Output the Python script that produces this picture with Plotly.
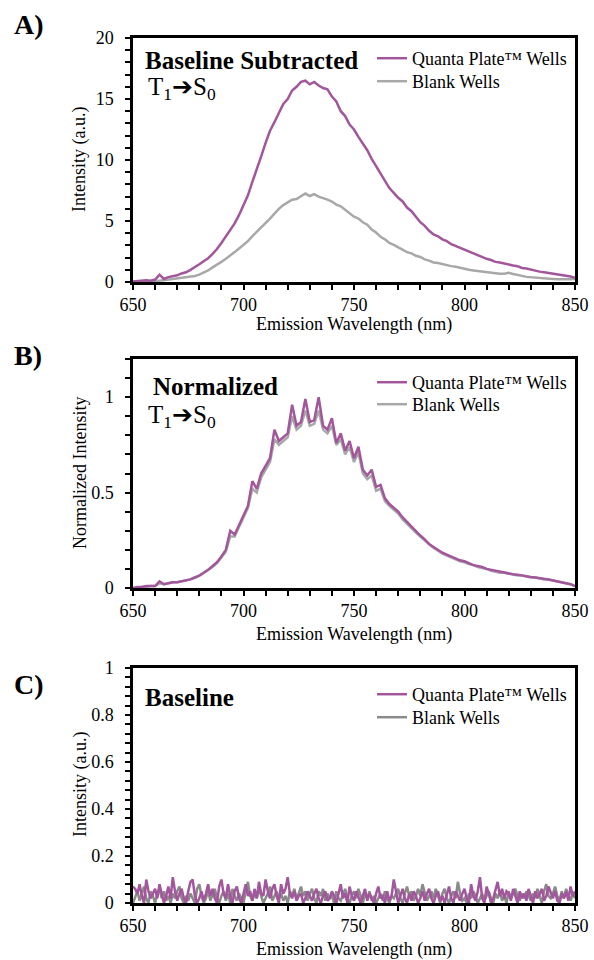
import plotly.graph_objects as go

# ---------------- data ----------------
wl_2nm = list(range(650, 851, 2))
wl_1nm = list(range(650, 851, 1))

a_quanta = [0.05, 0.1, 0.1, 0.15, 0.1, 0.2, 0.6, 0.25, 0.4, 0.45,
            0.55, 0.7, 0.8, 1.0, 1.2, 1.45, 1.7, 1.95, 2.3, 2.7,
            3.2, 3.7, 4.2, 4.8, 5.5, 6.3, 7.1, 8.2, 9.2, 10.3,
            11.4, 12.4, 13.1, 13.9, 14.6, 15.0, 15.7, 16.0, 16.4, 16.5,
            16.2, 16.4, 16.1, 15.9, 15.8, 15.2, 14.8, 14.0, 13.6, 12.9,
            12.5, 11.9, 11.4, 10.8, 10.1, 9.5, 8.8, 8.3, 7.7, 7.3,
            6.9, 6.6, 6.1, 5.8, 5.3, 4.9, 4.6, 4.2, 3.9, 3.75,
            3.5, 3.35, 3.1, 2.95, 2.75, 2.6, 2.5, 2.3, 2.2, 2.0,
            1.9, 1.8, 1.65, 1.6, 1.5, 1.45, 1.35, 1.3, 1.15, 1.1,
            1.0, 0.95, 0.85, 0.8, 0.75, 0.7, 0.65, 0.6, 0.5, 0.45,
            0.35]

a_blank = [0.0, 0.05, 0.0, 0.05, 0.05, 0.1, 0.1, 0.15, 0.15, 0.2,
           0.25, 0.3, 0.35, 0.4, 0.5, 0.6, 0.75, 0.95, 1.2, 1.4,
           1.65, 1.9, 2.15, 2.45, 2.75, 3.05, 3.35, 3.75, 4.1, 4.5,
           4.85, 5.2, 5.6, 6.0, 6.3, 6.5, 6.75, 6.8, 7.0, 7.25,
           7.05, 7.2, 7.0, 6.9, 6.75, 6.6, 6.35, 6.2, 5.9, 5.65,
           5.35, 5.2, 4.9, 4.7, 4.3, 4.05, 3.7, 3.5, 3.2, 3.05,
           2.85, 2.7, 2.45, 2.35, 2.15, 2.05, 1.85, 1.75, 1.6, 1.55,
           1.45, 1.4, 1.3, 1.25, 1.15, 1.1, 1.0, 0.95, 0.9, 0.85,
           0.8, 0.75, 0.72, 0.68, 0.68, 0.75, 0.65, 0.55, 0.5, 0.42,
           0.4, 0.35, 0.33, 0.3, 0.28, 0.25, 0.22, 0.2, 0.2, 0.22,
           0.25]

b_quanta = [0.0, 0.005, 0.005, 0.01, 0.01, 0.01, 0.035, 0.02, 0.025, 0.03,
            0.03, 0.035, 0.04, 0.045, 0.055, 0.065, 0.08, 0.095, 0.115, 0.135,
            0.165, 0.2, 0.3, 0.28, 0.33, 0.38, 0.43, 0.56, 0.52, 0.6,
            0.64, 0.68, 0.83, 0.77, 0.79, 0.81, 0.96, 0.85, 0.87, 0.99,
            0.87, 0.88, 1.0, 0.85, 0.83, 0.89, 0.76, 0.81, 0.72, 0.77,
            0.68, 0.74, 0.62, 0.59, 0.62, 0.53, 0.54, 0.47, 0.44, 0.42,
            0.4, 0.37, 0.345, 0.32, 0.3, 0.275, 0.255, 0.23, 0.215, 0.2,
            0.185, 0.175, 0.165, 0.155, 0.145, 0.14, 0.13, 0.12, 0.115, 0.11,
            0.1, 0.095, 0.09, 0.085, 0.08, 0.075, 0.072, 0.07, 0.065, 0.06,
            0.058, 0.055, 0.05, 0.048, 0.045, 0.04, 0.037, 0.033, 0.028, 0.02,
            0.01]

b_blank = [0.0, 0.0, 0.005, 0.005, 0.01, 0.01, 0.025, 0.02, 0.025, 0.03,
           0.03, 0.035, 0.04, 0.045, 0.055, 0.065, 0.08, 0.095, 0.11, 0.13,
           0.16, 0.19, 0.27, 0.27, 0.32, 0.37, 0.42, 0.52, 0.5, 0.58,
           0.62, 0.66, 0.78, 0.75, 0.77, 0.79, 0.9, 0.83, 0.85, 0.93,
           0.85, 0.86, 0.93, 0.83, 0.81, 0.85, 0.75, 0.78, 0.7, 0.74,
           0.66, 0.71, 0.6, 0.57, 0.59, 0.51, 0.52, 0.455, 0.43, 0.41,
           0.39, 0.36, 0.335, 0.31, 0.29, 0.27, 0.25, 0.225, 0.21, 0.195,
           0.18, 0.17, 0.16, 0.15, 0.14, 0.135, 0.125, 0.12, 0.11, 0.105,
           0.1, 0.09, 0.085, 0.08, 0.08, 0.075, 0.07, 0.065, 0.065, 0.06,
           0.055, 0.055, 0.05, 0.045, 0.045, 0.04, 0.035, 0.03, 0.025, 0.02,
           0.01]

c_quanta = [0.07, 0.06, 0.04, 0.08, 0.03, 0.0, 0.1, 0.05, 0.02, 0.04,
            0.06, 0.02, 0.08, 0.04, 0.0, 0.03, 0.07, 0.02, 0.11, 0.05,
            0.01, 0.04, 0.06, 0.02, 0.0, 0.05, 0.09, 0.1, 0.03, 0.0,
            0.02, 0.05, 0.01, 0.04, 0.08, 0.03, 0.06, 0.02, 0.0, 0.07,
            0.1, 0.04, 0.02, 0.08, 0.03, 0.0, 0.05, 0.07, 0.02, 0.0,
            0.04, 0.08, 0.03, 0.05, 0.01, 0.06, 0.02, 0.09, 0.04, 0.03,
            0.1, 0.05, 0.02, 0.06, 0.08, 0.03, 0.0, 0.08, 0.04, 0.06,
            0.11, 0.04, 0.02, 0.05, 0.01, 0.03, 0.04, 0.0, 0.02, 0.05,
            0.03, 0.01, 0.04, 0.06, 0.02, 0.0, 0.03, 0.05, 0.01, 0.02,
            0.05, 0.03, 0.0, 0.04, 0.08, 0.02, 0.04, 0.0, 0.07, 0.03,
            0.01, 0.05, 0.02, 0.0, 0.03, 0.06, 0.01, 0.04, 0.02, 0.0,
            0.04, 0.07, 0.02, 0.03, 0.0, 0.05, 0.01, 0.03, 0.1, 0.04,
            0.0, 0.03, 0.06, 0.02, 0.0, 0.04, 0.01, 0.05, 0.03, 0.0,
            0.02, 0.05, 0.01, 0.04, 0.06, 0.02, 0.0, 0.03, 0.05, 0.01,
            0.03, 0.0, 0.04, 0.07, 0.02, 0.0, 0.05, 0.03, 0.01, 0.04,
            0.06, 0.02, 0.0, 0.08, 0.03, 0.01, 0.05, 0.11, 0.02, 0.0,
            0.07, 0.04, 0.0, 0.02, 0.05, 0.09, 0.03, 0.06, 0.02, 0.05,
            0.04, 0.01, 0.06, 0.03, 0.0, 0.05, 0.02, 0.04, 0.01, 0.06,
            0.03, 0.0, 0.05, 0.02, 0.04, 0.06, 0.01, 0.03, 0.07, 0.04,
            0.02, 0.05, 0.01, 0.0, 0.04, 0.02, 0.05, 0.01, 0.07, 0.03,
            0.05]

c_blank = [0.0, 0.03, 0.05, 0.01, 0.04, 0.07, 0.02, 0.0, 0.05, 0.03,
           0.0, 0.04, 0.06, 0.02, 0.05, 0.01, 0.03, 0.0, 0.04, 0.02,
           0.05, 0.07, 0.02, 0.0, 0.03, 0.01, 0.04, 0.02, 0.0, 0.06,
           0.08, 0.03, 0.0, 0.02, 0.05, 0.01, 0.04, 0.06, 0.02, 0.0,
           0.03, 0.05, 0.01, 0.04, 0.0, 0.06, 0.03, 0.01, 0.04, 0.02,
           0.0, 0.05, 0.09, 0.03, 0.01, 0.04, 0.02, 0.06, 0.03, 0.0,
           0.02, 0.04, 0.07, 0.01, 0.03, 0.05, 0.02, 0.04, 0.01, 0.03,
           0.0, 0.05, 0.03, 0.06, 0.02, 0.04, 0.07, 0.03, 0.05, 0.01,
           0.04, 0.06, 0.02, 0.0, 0.05, 0.03, 0.06, 0.01, 0.04, 0.02,
           0.03, 0.0, 0.05, 0.02, 0.01, 0.04, 0.06, 0.02, 0.0, 0.03,
           0.05, 0.02, 0.06, 0.03, 0.0, 0.04, 0.02, 0.05, 0.01, 0.03,
           0.0, 0.02, 0.04, 0.01, 0.05, 0.02, 0.0, 0.03, 0.02, 0.04,
           0.06, 0.02, 0.0, 0.04, 0.07, 0.03, 0.05, 0.01, 0.03, 0.06,
           0.03, 0.08, 0.04, 0.01, 0.03, 0.05, 0.02, 0.06, 0.03, 0.0,
           0.04, 0.06, 0.02, 0.0, 0.03, 0.05, 0.02, 0.09, 0.04, 0.01,
           0.02, 0.0, 0.04, 0.02, 0.05, 0.03, 0.0, 0.02, 0.04, 0.01,
           0.03, 0.05, 0.02, 0.0, 0.04, 0.02, 0.05, 0.01, 0.03, 0.0,
           0.05, 0.02, 0.04, 0.06, 0.03, 0.01, 0.04, 0.02, 0.05, 0.03,
           0.01, 0.04, 0.02, 0.06, 0.03, 0.0, 0.05, 0.08, 0.03, 0.02,
           0.04, 0.07, 0.03, 0.01, 0.05, 0.02, 0.06, 0.03, 0.01, 0.04,
           0.02]

series_names = ["Quanta Plate™ Wells", "Blank Wells"]
x_ticks = [650, 700, 750, 800, 850]

# ---------------- style ----------------
W, H = 594, 960
PURPLE = "#a2569b"
GRAY = "#a8a8a8"
GRAY_C = "#8a8a8a"
FONT = "Liberation Serif"


def X(px):
    return px / W


def Y(py):
    return 1 - py / H


x_dom = [X(133), X(575)]
doms = {
    "A": [Y(282), Y(38)],
    "B": [Y(588), Y(359)],
    "C": [Y(903), Y(668)],
}

fig = go.Figure()

# (xaxis, yaxis, legend for quanta, legend for blank, x, quanta, blank, gray colour)
panels = [
    ("x", "y", "legend", "legend2", wl_2nm, a_quanta, a_blank, GRAY),
    ("x2", "y2", "legend3", "legend4", wl_2nm, b_quanta, b_blank, GRAY),
    ("x3", "y3", "legend5", "legend6", wl_1nm, c_quanta, c_blank, GRAY_C),
]
for xa, ya, lq, lb, xs, q, b, gcol in panels:
    fig.add_trace(go.Scatter(x=xs, y=b, mode="lines", name=series_names[1],
                             line=dict(color=gcol, width=2.5),
                             xaxis=xa, yaxis=ya, legend=lb))
    fig.add_trace(go.Scatter(x=xs, y=q, mode="lines", name=series_names[0],
                             line=dict(color=PURPLE, width=2.5),
                             xaxis=xa, yaxis=ya, legend=lq))

TICKFONT = dict(family=FONT, size=18, color="black")
axis_common = dict(showline=True, linewidth=2.5, linecolor="black", mirror=True,
                   ticks="outside", ticklen=5, tickwidth=2, tickcolor="black",
                   showgrid=False, zeroline=False, automargin=False)


def minor(dt):
    return dict(dtick=dt, ticks="outside", ticklen=5, tickwidth=2,
                tickcolor="black", showgrid=False)


def xax(anchor):
    return dict(axis_common, range=[650, 850], tickvals=x_ticks, domain=x_dom,
                minor=minor(10), ticklabelstandoff=0, anchor=anchor,
                tickfont=dict(TICKFONT))


def yax(dom, rng, dt, mdt, anchor):
    return dict(axis_common, domain=dom, range=rng, dtick=dt, anchor=anchor,
                minor=minor(mdt), ticklabelstandoff=8, tickfont=dict(TICKFONT))


fig.update_layout(
    width=W, height=H, autosize=False,
    margin=dict(l=0, r=0, t=0, b=0, pad=0, autoexpand=False),
    paper_bgcolor="white", plot_bgcolor="white",
    font=dict(family=FONT, color="black", size=18),
    xaxis=xax("y"), xaxis2=xax("y2"), xaxis3=xax("y3"),
    yaxis=yax(doms["A"], [0, 20], 5, 1, "x"),
    yaxis2=yax(doms["B"], [0, 1.2], 0.5, 0.1, "x2"),
    yaxis3=yax(doms["C"], [0, 1], 0.2, 0.04, "x3"),
    showlegend=True,
)

leg_common = dict(xanchor="left", yanchor="top", bgcolor="rgba(0,0,0,0)",
                  font=dict(family=FONT, size=18, color="black"),
                  itemwidth=30, tracegroupgap=0)
# one legend per entry; row centres at 58/81, 382/404, 694/717 px
leg_rows = [58, 81, 382, 404, 694, 717]
legend_layout = {}
for i, row in enumerate(leg_rows):
    key = "legend" if i == 0 else "legend%d" % (i + 1)
    legend_layout[key] = dict(leg_common, x=X(372), y=Y(row - 18))
fig.update_layout(**legend_layout)

ann = []


def add_text(text, px, py, size, xanchor="left", bold=False, angle=0):
    ann.append(dict(text=("<b>%s</b>" % text) if bold else text,
                    x=X(px), y=Y(py), xref="paper", yref="paper",
                    xanchor=xanchor, yanchor="middle", showarrow=False,
                    textangle=angle,
                    font=dict(family=FONT, size=size, color="black")))


T1S0 = "T<sub>1</sub><span style='font-family:DejaVu Sans'>➔</span>S<sub>0</sub>"

add_text("A)", 12, 25, 28, bold=True)
add_text("B)", 12, 355, 28, bold=True)
add_text("C)", 12, 684, 28, bold=True)
add_text("Baseline Subtracted", 143, 60, 25, bold=True)
add_text(T1S0, 146, 88, 25)
add_text("Normalized", 151, 387, 25, bold=True)
add_text(T1S0, 146, 416, 25)
add_text("Baseline", 143, 697, 25, bold=True)
for ty in (324, 634, 949):
    add_text("Emission Wavelength (nm)", 354, ty, 18, xanchor="center")
add_text("Intensity (a.u.)", 80, 160, 18, xanchor="center", angle=-90)
add_text("Normalized Intensity", 80, 473, 18, xanchor="center", angle=-90)
add_text("Intensity (a.u.)", 80, 785, 18, xanchor="center", angle=-90)

fig.update_layout(annotations=ann)

fig.write_html("out.html")
